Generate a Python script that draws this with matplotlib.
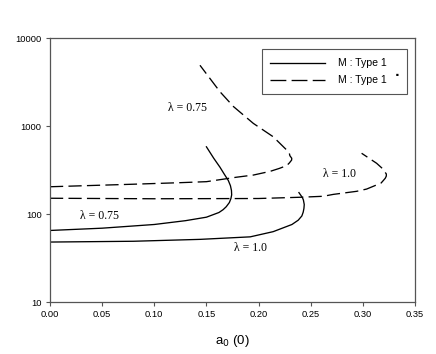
import matplotlib
matplotlib.use("Agg")
import matplotlib.pyplot as plt
from matplotlib.lines import Line2D
from matplotlib.patches import Rectangle

# Data
sol_075_x = [0.000, 0.050, 0.100, 0.130, 0.150, 0.162, 0.166, 0.169, 0.172, 0.1735, 0.1742,
             0.174, 0.173, 0.171, 0.167, 0.163, 0.157, 0.150]
sol_075_y = [65, 69, 76, 84, 92, 104, 112, 121, 135, 150, 165, 185, 210, 240, 285, 340, 430, 580]

sol_10_x = [0.000, 0.080, 0.144, 0.192, 0.214, 0.232, 0.238, 0.2415, 0.2428, 0.2435, 0.2438,
            0.243, 0.2422, 0.241, 0.2387]
sol_10_y = [48, 49, 51.5, 55, 63, 76, 85, 95, 105, 116, 128, 144, 152, 160, 175]

dash_075_x = [0.000, 0.080, 0.125, 0.150, 0.179, 0.195, 0.211, 0.220, 0.227, 0.2295, 0.2317,
              0.2318, 0.230, 0.2295, 0.227, 0.214, 0.195, 0.176, 0.163, 0.1438]
dash_075_y = [204, 218, 227, 233, 262, 277, 305, 330, 355, 380, 410, 430, 460, 490, 533, 755,
              1070, 1660, 2450, 4900]

dash_10_x = [0.000, 0.100, 0.200, 0.240, 0.262, 0.2716, 0.294, 0.3036, 0.3132, 0.3175, 0.3196,
             0.3215, 0.3225, 0.3225, 0.321, 0.318, 0.3132, 0.2988]
dash_10_y = [151, 149, 150, 155, 159, 167, 181, 192, 214, 225, 240, 255, 270, 285, 302, 335,
             377, 490]

x_ticks = [0.00, 0.05, 0.10, 0.15, 0.20, 0.25, 0.30, 0.35]
x_ticklabels = ["0.00", "0.05", "0.10", "0.15", "0.20", "0.25", "0.30", "0.35"]
y_ticks = [10, 100, 1000, 10000]
y_ticklabels = ["10", "100", "1000", "10000"]

legend_labels = ["M : Type 1", "M : Type 1"]

labels = [("λ = 0.75", 0.132, 1620), ("λ = 0.75", 0.047, 96),
          ("λ = 1.0", 0.192, 40.7), ("λ = 1.0", 0.278, 288)]

W, H = 436, 354
fig = plt.figure(figsize=(W / 100, H / 100), dpi=100)
ax = fig.add_axes([50 / W, 1 - 302 / H, (415 - 50) / W, (302 - 38) / H])

dash = (0, (10, 4))
lw = 0.95
ax.plot(sol_075_x, sol_075_y, color="black", lw=lw)
ax.plot(sol_10_x, sol_10_y, color="black", lw=lw)
ax.plot(dash_075_x, dash_075_y, color="black", lw=lw, linestyle=dash)
ax.plot(dash_10_x, dash_10_y, color="black", lw=lw, linestyle=dash)

ax.set_yscale("log")
ax.set_xlim(0, 0.35)
ax.set_ylim(10, 10000)
ax.set_xticks(x_ticks)
ax.set_xticklabels(x_ticklabels)
ax.set_yticks(y_ticks)
ax.set_yticklabels(y_ticklabels)
ax.minorticks_off()
ax.tick_params(axis="both", direction="out", length=3, width=0.8, labelsize=6.7, pad=3,
               color="#555555")
for lab in ax.get_xticklabels() + ax.get_yticklabels():
    lab.set_fontfamily("Liberation Sans")
for s in ax.spines.values():
    s.set_color("#555555")
    s.set_linewidth(0.9)

ax.set_xlabel("a$_0$ (0)", fontsize=9.5, fontfamily="Liberation Sans", labelpad=10)

for txt, x, y in labels:
    ax.text(x, y, txt, fontsize=8.5, fontfamily="Liberation Serif", ha="center", va="center")

# Legend drawn as a framed box (figure pixel layout)
def fx(px):
    return px / W

def fy(py):
    return 1 - py / H

fig.add_artist(Rectangle((fx(262), fy(94)), fx(407) - fx(262), fy(49) - fy(94),
                         transform=fig.transFigure, facecolor="white",
                         edgecolor="#555555", lw=0.8, zorder=5))
styles = ["-", (0, (12, 4))]
rows = [62.5, 80]
for lab, st, ry in zip(legend_labels, styles, rows):
    fig.add_artist(Line2D([fx(270), fx(325)], [fy(ry), fy(ry)], transform=fig.transFigure,
                          color="black", lw=lw, linestyle=st, zorder=6))
    fig.text(fx(338), fy(ry), lab, fontsize=7.6, fontfamily="Liberation Sans",
             ha="left", va="center", zorder=6)
fig.text(fx(397.5), fy(72), ".", fontsize=9, fontweight="bold", ha="center", va="center",
         zorder=6)

fig.savefig("out.png", dpi=100)
